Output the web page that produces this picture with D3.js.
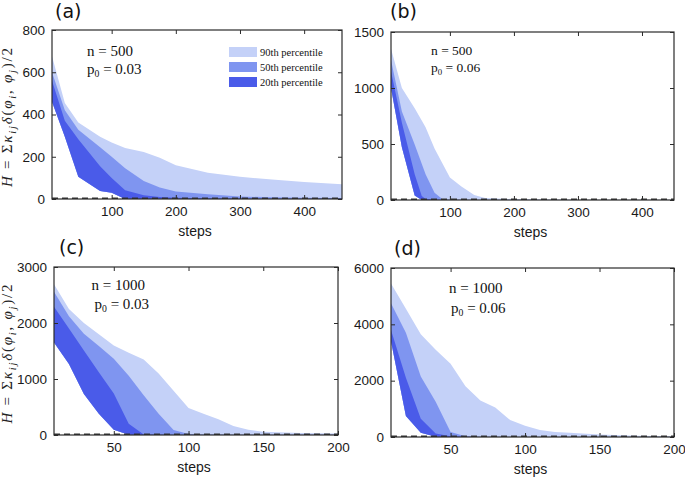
<!DOCTYPE html>
<html><head><meta charset="utf-8">
<script src="https://cdn.jsdelivr.net/npm/d3@7"></script>
<style>body{margin:0;background:#fff}</style>
</head><body>
<svg id="chart" width="685" height="479"></svg>
<script>
// ---- data ----
const seriesNames = ["90th percentile", "50th percentile", "20th percentile"];

const aSteps = [7, 27, 48, 82, 100, 121, 150, 175, 200, 250, 300, 350, 400, 459];
const aP90   = [676, 455, 362, 295, 268, 242, 222, 195, 160, 124, 105, 92, 80, 70];
const aP50   = [600, 420, 328, 245, 200, 145, 85, 55, 36, 22, 12, 8, 6, 5];
const aP20   = [560, 370, 283, 155, 100, 42, 18, 10, 6, 3, 2, 1, 1, 1];
const aLow   = [460, 295, 105, 38, 30, 0, 0, 0, 0, 0, 0, 0, 0, 0];

const bSteps = [8, 25, 45, 56, 62, 76, 88, 100, 118, 138, 155, 200, 300, 450];
const bP90   = [1350, 1000, 820, 710, 650, 460, 330, 200, 120, 45, 18, 8, 3, 2];
const bP50   = [1250, 790, 495, 323, 230, 65, 10, 3, 2, 1, 1, 1, 1, 1];
const bP20   = [1150, 690, 230, 35, 8, 2, 1, 1, 1, 1, 1, 1, 1, 1];
const bLow   = [1000, 470, 40, 0, 0, 0, 0, 0, 0, 0, 0, 0, 0, 0];

const cSteps = [10, 20, 30, 40, 50, 60, 70, 80, 90, 100, 110, 120, 130, 140, 150, 175, 200];
const cP90   = [2690, 2250, 2000, 1800, 1600, 1470, 1350, 1100, 790, 480, 380, 280, 160, 95, 60, 35, 25];
const cP50   = [2560, 2120, 1810, 1590, 1360, 1060, 710, 380, 90, 20, 10, 8, 6, 5, 4, 3, 3];
const cP20   = [2290, 1900, 1510, 1120, 740, 200, 10, 3, 2, 1, 1, 1, 1, 1, 1, 1, 1];
const cLow   = [1650, 1270, 730, 380, 95, 5, 0, 0, 0, 0, 0, 0, 0, 0, 0, 0, 0];

const dSteps = [10, 20, 30, 40, 50, 60, 70, 80, 90, 100, 110, 120, 130, 150, 175, 200];
const dP90   = [5450, 4550, 3650, 3100, 2600, 1800, 1300, 1050, 600, 400, 250, 180, 150, 90, 40, 25];
const dP50   = [4750, 3700, 2150, 1250, 180, 30, 10, 5, 3, 2, 2, 2, 2, 2, 2, 2];
const dP20   = [3800, 2100, 650, 120, 25, 5, 2, 1, 1, 1, 1, 1, 1, 1, 1, 1];
const dLow   = [3400, 750, 150, 10, 0, 0, 0, 0, 0, 0, 0, 0, 0, 0, 0, 0];

const xTicks500 = [100, 200, 300, 400];
const xTicks1000 = [50, 100, 150, 200];
const yTicksA = [0, 200, 400, 600, 800];
const yTicksB = [0, 500, 1000, 1500];
const yTicksC = [0, 1000, 2000, 3000];
const yTicksD = [0, 2000, 4000, 6000];

const nLabels = ["500", "500", "1000", "1000"];
const p0Labels = ["0.03", "0.06", "0.03", "0.06"];
const panelLetters = ["(a)", "(b)", "(c)", "(d)"];

// ---- styling / layout ----
const colors = ["#c4d1f8", "#7f95f0", "#4a5be9"];
const panels = [
  {steps:aSteps, p90:aP90, p50:aP50, p20:aP20, low:aLow, xd:[7,459], yd:[0,800], xt:xTicks500, yt:yTicksA,
   box:{l:52,t:30,r:342,b:199}, label:{x:55,y:18}, ann:{x:87,y1:56,y2:74,x2:87,fs:15}, ylab:true, legend:true},
  {steps:bSteps, p90:bP90, p50:bP50, p20:bP20, low:bLow, xd:[8,450], yd:[0,1500], xt:xTicks500, yt:yTicksB,
   box:{l:391,t:32,r:674,b:200}, label:{x:390,y:18}, ann:{x:431,y1:55,y2:71.5,x2:431,fs:13.5}},
  {steps:cSteps, p90:cP90, p50:cP50, p20:cP20, low:cLow, xd:[10,200], yd:[0,3000], xt:xTicks1000, yt:yTicksC,
   box:{l:54,t:267,r:338,b:435}, label:{x:59,y:254}, ann:{x:91.5,y1:290,y2:309,x2:94.5,fs:15}, ylab:true},
  {steps:dSteps, p90:dP90, p50:dP50, p20:dP20, low:dLow, xd:[10,200], yd:[0,6000], xt:xTicks1000, yt:yTicksD,
   box:{l:391,t:268,r:674,b:437}, label:{x:394,y:255}, ann:{x:449,y1:293,y2:312.5,x2:451,fs:15}}
];

const svg = d3.select("#chart");
const sans = "'Liberation Sans', Arial, sans-serif";
const serif = "'Liberation Serif', 'Times New Roman', serif";

panels.forEach((p, i) => {
  const B = p.box;
  const x = d3.scaleLinear().domain(p.xd).range([B.l, B.r]);
  const y = d3.scaleLinear().domain(p.yd).range([B.b, B.t]);
  const g = svg.append("g");
  const clipId = "clip" + i;
  svg.append("clipPath").attr("id", clipId).append("rect")
    .attr("x", B.l).attr("y", B.t).attr("width", B.r - B.l).attr("height", B.b - B.t);
  const plot = g.append("g").attr("clip-path", `url(#${clipId})`);

  const rows = p.steps.map((s, k) => ({s, lo:p.low[k], h90:p.p90[k], h50:p.p50[k], h20:p.p20[k]}));
  const keys = ["h90", "h50", "h20"];
  keys.forEach((key, j) => {
    const area = d3.area().x(d => x(d.s)).y0(d => y(d.lo)).y1(d => y(d[key]));
    plot.append("path").datum(rows).attr("d", area).attr("fill", colors[j]).attr("stroke", "none");
  });

  // dashed zero line
  plot.append("line").attr("x1", B.l).attr("x2", B.r).attr("y1", y(0) - 0.5).attr("y2", y(0) - 0.5)
    .attr("stroke", "#333").attr("stroke-width", 2).attr("stroke-dasharray", "6,4");

  // axes (MATLAB box style, inward ticks)
  const tl = 4;
  const fmt = d3.format("d");
  const axB = d3.axisBottom(x).tickValues(p.xt).tickSizeInner(-tl).tickSizeOuter(0).tickPadding(7).tickFormat(fmt);
  const axT = d3.axisTop(x).tickValues(p.xt).tickSizeInner(-tl).tickSizeOuter(0).tickFormat("");
  const axL = d3.axisLeft(y).tickValues(p.yt).tickSizeInner(-tl).tickSizeOuter(0).tickPadding(7).tickFormat(fmt);
  const axR = d3.axisRight(y).tickValues(p.yt).tickSizeInner(-tl).tickSizeOuter(0).tickFormat("");
  const gB = g.append("g").attr("transform", `translate(0,${B.b})`).call(axB);
  const gT = g.append("g").attr("transform", `translate(0,${B.t})`).call(axT);
  const gL = g.append("g").attr("transform", `translate(${B.l},0)`).call(axL);
  const gR = g.append("g").attr("transform", `translate(${B.r},0)`).call(axR);
  [gB, gT, gL, gR].forEach(a => {
    a.select(".domain").remove();
    a.selectAll("line").attr("stroke", "#2b2b2b").attr("stroke-width", 1);
    a.selectAll("text").attr("font-family", sans).attr("font-size", 13.5).attr("fill", "#1a1a1a");
  });
  g.append("rect").attr("x", B.l).attr("y", B.t).attr("width", B.r - B.l).attr("height", B.b - B.t)
    .attr("fill", "none").attr("stroke", "#2b2b2b").attr("stroke-width", 1.2);

  // x label
  g.append("text").attr("x", (B.l + B.r) / 2 - 2).attr("y", B.b + 37)
    .attr("text-anchor", "middle").attr("font-family", sans).attr("font-size", 14)
    .attr("fill", "#1a1a1a").text("steps");

  // panel letter
  g.append("text").attr("x", p.label.x).attr("y", p.label.y)
    .attr("font-family", "'DejaVu Sans', sans-serif").attr("font-size", 19)
    .attr("fill", "#111").text(panelLetters[i]);

  // annotations
  const A = p.ann;
  g.append("text").attr("x", A.x).attr("y", A.y1).attr("font-family", serif)
    .attr("font-size", A.fs).attr("fill", "#111").text("n = " + nLabels[i]);
  const t2 = g.append("text").attr("x", A.x2).attr("y", A.y2).attr("font-family", serif)
    .attr("font-size", A.fs).attr("fill", "#111");
  t2.append("tspan").text("p");
  t2.append("tspan").attr("font-size", A.fs * 0.65).attr("dy", 3).text("0");
  t2.append("tspan").attr("dy", -3).text(" = " + p0Labels[i]);

  // y label
  if (p.ylab) {
    const cy = (B.t + B.b) / 2 + 3;
    const yl = g.append("text").attr("transform", `translate(12,${cy}) rotate(-90)`)
      .attr("text-anchor", "middle").attr("font-family", serif).attr("font-size", 15)
      .attr("fill", "#222").attr("textLength", 139).attr("lengthAdjust", "spacing");
    const parts = [
      ["H", true, 0], [" = Σ", false, 0], ["κ", true, 0], ["ij", true, 1], ["δ", true, -1],
      ["(", false, 0], ["φ", true, 0], ["i", true, 1], [", ", false, -1], ["φ", true, 0], ["j", true, 1],
      [")/2", false, -1]
    ];
    parts.forEach(([txt, it, sh]) => {
      const ts = yl.append("tspan").text(txt).attr("font-style", it ? "italic" : "normal");
      if (sh === 1) ts.attr("dy", 3.5).attr("font-size", 10.5);
      if (sh === -1) ts.attr("dy", -3.5);
    });
  }

  // legend
  if (p.legend) {
    const lg = g.append("g");
    seriesNames.forEach((name, j) => {
      const ty = 47 + j * 15;
      lg.append("rect").attr("x", 229).attr("y", ty).attr("width", 28).attr("height", 10).attr("fill", colors[j]);
      lg.append("text").attr("x", 260).attr("y", ty + 9).attr("font-family", serif)
        .attr("font-size", 10.5).attr("fill", "#111").text(name);
    });
  }
});
</script>
</body></html>
